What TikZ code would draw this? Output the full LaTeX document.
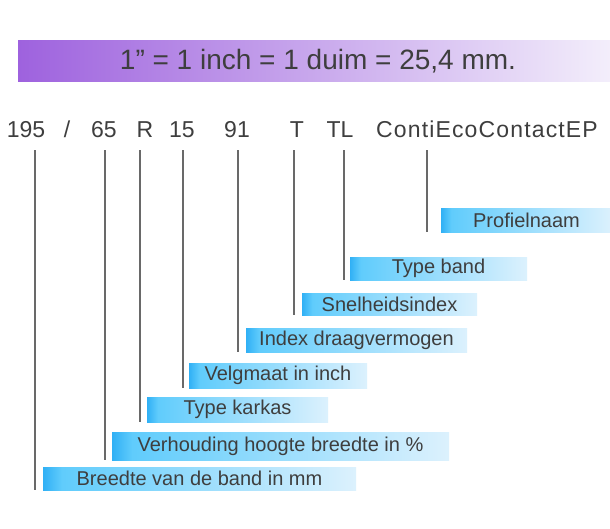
\documentclass[tikz,border=0pt]{standalone}
\usepackage{fontspec}
\setmainfont{Liberation Sans}
\definecolor{purp}{RGB}{158,98,222}
\definecolor{lav}{RGB}{243,238,251}
\definecolor{bdark}{RGB}{48,176,245}
\definecolor{bmid}{RGB}{96,204,252}
\definecolor{blight}{RGB}{220,241,253}
\definecolor{txt}{RGB}{62,62,62}
\definecolor{ln}{RGB}{105,105,105}
\pgfdeclarehorizontalshading{barshade}{100bp}{color(0bp)=(bdark); color(25bp)=(bdark); color(28bp)=(bmid); color(75bp)=(blight); color(100bp)=(blight)}
\tikzset{
  bar/.style={anchor=north west, inner sep=0pt, outer sep=0pt,
    shading=barshade, shade, text=txt,
    font=\fontsize{20}{24}\selectfont},
  code/.style={anchor=base, text=txt, font=\fontsize{23}{27}\selectfont, inner sep=0pt},
  lead/.style={draw=ln, line width=1.4pt},
  banner/.style={anchor=north west, inner sep=0pt, left color=purp, right color=lav},
}
\begin{document}
\begin{tikzpicture}[x=1pt,y=-1pt]
\useasboundingbox (0,0) rectangle (610,528);
\fill[white] (0,0) rectangle (610,528);
% banner
\node[banner, minimum width=592pt, minimum height=41pt] (ban) at (18,40) {};
\node[text=txt, font=\fontsize{28}{32}\selectfont, inner sep=0pt] (bantxt) at (318,61) {1” = 1 inch = 1 duim = 25,4 mm.};
% code line
\node[code] (n195) at (26,137) {195};
\node[code] (nsl) at (67,137) {/};
\node[code] (n65) at (104,137) {65};
\node[code] (nR) at (145,137) {R};
\node[code] (n15) at (182,137) {15};
\node[code] (n91) at (237,137) {91};
\node[code] (nT) at (297,137) {T};
\node[code] (nTL) at (340,137) {TL};
\node[code] (nprof) at (487,137) {\addfontfeatures{LetterSpace=5}ContiEcoContactEP};
% bars
\node[bar, minimum width=171pt, minimum height=24pt] (prof) at (441,208) {Profielnaam};
\node[bar, minimum width=177pt, minimum height=23pt] (tband) at (350,257) {Type band};
\node[bar, minimum width=175pt, minimum height=22pt] (snel) at (302,293) {Snelheidsindex};
\node[bar, minimum width=221pt, minimum height=24pt] (index) at (246,328) {Index draagvermogen};
\node[bar, minimum width=178pt, minimum height=25pt] (velg) at (189,363) {Velgmaat in inch};
\node[bar, minimum width=181pt, minimum height=25pt] (kark) at (147,397) {Type karkas};
\node[bar, minimum width=337pt, minimum height=28pt] (verh) at (112,432) {Verhouding hoogte breedte in \%};
\node[bar, minimum width=313pt, minimum height=23pt] (breed) at (43,467) {Breedte van de band in mm};
% leader tops
\coordinate (t195) at (35,150);
\coordinate (t65) at (105,150);
\coordinate (tR) at (140,150);
\coordinate (t15) at (183,150);
\coordinate (t91) at (238,150);
\coordinate (tT) at (294,150);
\coordinate (tTL) at (344,150);
\coordinate (tprof) at (427,150);
\draw[lead] (t195) -- (t195 |- breed.south);
\draw[lead] (t65) -- (t65 |- verh.south);
\draw[lead] (tR) -- (tR |- kark.south);
\draw[lead] (t15) -- (t15 |- velg.south);
\draw[lead] (t91) -- (t91 |- index.south);
\draw[lead] (tT) -- (tT |- snel.south);
\draw[lead] (tTL) -- (tTL |- tband.south);
\draw[lead] (tprof) -- (tprof |- prof.south);
\end{tikzpicture}
\end{document}
